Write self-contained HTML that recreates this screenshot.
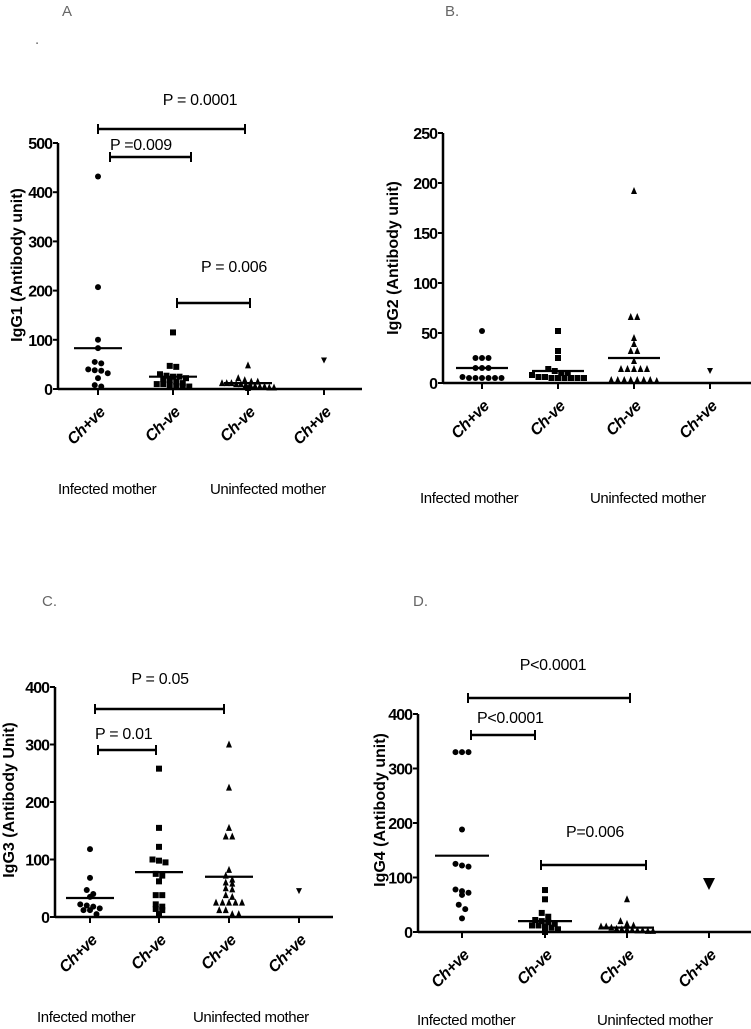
<!DOCTYPE html>
<html><head><meta charset="utf-8">
<style>
html,body{margin:0;padding:0;background:#fff;}
svg{display:block;font-family:"Liberation Sans",sans-serif;}
.tk{font-weight:bold;font-size:16px;letter-spacing:-1px;}
.yt{font-weight:bold;font-size:16px;}
.cat{font-weight:bold;font-style:italic;font-size:16px;letter-spacing:-0.5px;}
.grp{font-size:15px;letter-spacing:-0.4px;}
.pv{font-size:16px;letter-spacing:-0.3px;}
.pl{font-size:15px;fill:#666;}
</style></head>
<body>
<svg id="fig" width="751" height="1029" viewBox="0 0 751 1029"></svg>
<script>
const categories = ["Ch+ve","Ch-ve","Ch-ve","Ch+ve"];
const groupLabels = ["Infected mother","Uninfected mother"];
// Panel A IgG1
const aG1 = [432,207,100,83,55,52,40,38,37,32,22,8,5];
const aG2 = [115,47,45,30,27,25,25,22,20,18,15,12,10,10,8,6,5,5];
const aG3 = [48,22,18,15,15,12,12,12,10,10,8,8,6,5,5,3,3,2];
const aG4 = [58];
const aMedians = [83,25,12,58];
const aTicks = [0,100,200,300,400,500];
// Panel B IgG2
const bG1 = [52,25,25,25,15,15,15,6,5,5,5,5,5,5];
const bG2 = [52,32,25,14,12,10,10,8,6,5,5,5,5,5,5,6];
const bG3 = [192,66,66,45,39,32,32,22,14,14,14,14,14,3,3,3,3,3,3,3,2];
const bG4 = [12];
const bMedians = [15,12,25,12];
const bTicks = [0,50,100,150,200,250];
// Panel C IgG3
const cG1 = [118,68,47,40,35,22,20,18,15,12,12,5];
const cG2 = [258,155,122,100,98,95,75,72,62,38,38,22,18,14,12,5];
const cG3 = [300,225,155,140,140,82,72,65,60,58,50,48,38,35,25,25,25,25,25,12,12,5,5];
const cG4 = [45];
const cMedians = [33,78,70,45];
const cTicks = [0,100,200,300,400];
// Panel D IgG4
const dG1 = [330,330,330,188,125,122,120,78,75,72,68,50,42,25];
const dG2 = [77,60,35,28,22,20,18,15,12,12,10,8,5,0];
const dG3 = [60,20,15,12,10,10,8,6,5,5,4,3,3,2,2];
const dG4 = [88];
const dMedians = [140,20,8,88];
const dTicks = [0,100,200,300,400];

const NS="http://www.w3.org/2000/svg";
const svg=document.getElementById('fig');
function mk(tag,attrs,parent){const e=document.createElementNS(NS,tag);for(const k in attrs)e.setAttribute(k,attrs[k]);(parent||svg).appendChild(e);return e;}
function txt(s,attrs,parent){const e=mk('text',attrs,parent);e.textContent=s;return e;}

function panel(cfg){
  const g=mk('g',{});
  
  
  const ys=v=>cfg.y0-(v/cfg.max)*(cfg.y0-cfg.yTop);
  const ya=mk('line',{x1:cfg.ax,y1:cfg.yTop,x2:cfg.ax,y2:cfg.y0+1,stroke:'#000','stroke-width':2.5},g);
  
  
  const xa=mk('line',{x1:cfg.ax,y1:cfg.y0,x2:cfg.xEnd,y2:cfg.y0,stroke:'#000','stroke-width':2.5},g);
  
  
  cfg.ticks.forEach(t=>{
    const y=ys(t);
    mk('line',{x1:cfg.ax-5,y1:y,x2:cfg.ax,y2:y,stroke:'#000','stroke-width':2},g);
    const tl=txt(String(t),{x:cfg.ax-6,y:y+6,'text-anchor':'end',class:'tk'},g);
    
    
  });
  const yt=txt(cfg.ytitle,{x:0,y:0,class:'yt','text-anchor':'middle',transform:`translate(${cfg.ytx},${cfg.yty}) rotate(-90)`},g);
  
  
  cfg.gx.forEach((x,i)=>{
    mk('line',{x1:x,y1:cfg.y0,x2:x,y2:cfg.y0+6,stroke:'#000','stroke-width':2},g);
    const c=txt(categories[i],{x:0,y:0,class:'cat','text-anchor':'end',transform:`translate(${x+8},${cfg.y0+24}) rotate(-45)`},g);
    if(cfg.plainCat)c.setAttribute('font-style','normal');
    
    
  });
  cfg.grpX.forEach((x,i)=>{
    const t=txt(groupLabels[i],{x:x,y:cfg.grpY,class:'grp','font-size':cfg.grpSize},g);
    
    
  });
  cfg.series.forEach((vals,gi)=>{
    const sorted=vals.slice().sort((a,b)=>b-a);
    const rows=[];
    sorted.forEach(v=>{
      const y=ys(v);
      const last=rows[rows.length-1];
      if(last && Math.abs(last.y0-y)<4.5) last.items.push(y);
      else rows.push({y0:y,items:[y]});
    });
    rows.forEach(row=>{
      const n=row.items.length;
      const sp=n>1?Math.min(6.5,52/(n-1)):0;
      row.items.forEach((y,k)=>{
        const x=cfg.gx[gi]+(k-(n-1)/2)*sp;
        const r=cfg.ms;
        let m;
        if(gi===0) m=mk('circle',{cx:x,cy:y,r:r},g);
        else if(gi===1) m=mk('rect',{x:x-r,y:y-r,width:2*r,height:2*r},g);
        else if(gi===2) m=mk('polygon',{points:`${x},${y-r-1} ${x-r},${y+r} ${x+r},${y+r}`},g);
        else { const rr=cfg.bigTri?6:r; m=mk('polygon',{points:`${x-rr},${y-rr} ${x+rr},${y-rr} ${x},${y+rr}`},g); }
        m.setAttribute('fill','#000');
        
        
      });
    });
  });
  cfg.medians.forEach((v,i)=>{
    if(i===3)return;
    const y=ys(v);
    const l=mk('line',{x1:cfg.gx[i]-cfg.mw,y1:y,x2:cfg.gx[i]+cfg.mw,y2:y,stroke:'#000','stroke-width':2.2},g);
    
    
  });
  cfg.pbars.forEach(p=>{
    const b=mk('g',{},g);
    
    
    mk('line',{x1:p[0],y1:p[2],x2:p[1],y2:p[2],stroke:'#000','stroke-width':2.5},b);
    mk('line',{x1:p[0],y1:p[2]-5,x2:p[0],y2:p[2]+5,stroke:'#000','stroke-width':2},b);
    mk('line',{x1:p[1],y1:p[2]-5,x2:p[1],y2:p[2]+5,stroke:'#000','stroke-width':2},b);
    const t=txt(p[3],{x:p[4],y:p[5],class:'pv','text-anchor':p[6]},b);
    
    
  });
  const pl=txt(cfg.label,{x:cfg.lx,y:cfg.ly,class:'pl'},g);
  
  
}

panel({name:'panel-a-igg1',ax:58,y0:389,yTop:143,max:500,xEnd:362,ticks:aTicks,ytitle:'IgG1 (Antibody unit)',ytx:22,yty:265,
  gx:[98,173,248,324],series:[aG1,aG2,aG3,aG4],medians:aMedians,ms:3,mw:24,grpX:[58,210],grpY:494,grpSize:14,
  pbars:[[98,245,129,'P = 0.0001',200,105,'middle'],[110,191,157,'P =0.009',110,150,'start'],[177,250,303,'P = 0.006',234,272,'middle']],
  label:'A',lx:62,ly:16});
txt('.',{x:35,y:44,class:'pl'});
panel({name:'panel-b-igg2',ax:443,y0:383,yTop:133,max:250,xEnd:751,ticks:bTicks,ytitle:'IgG2 (Antibody unit)',ytx:398,yty:258,
  gx:[482,558,634,710],series:[bG1,bG2,bG3,bG4],medians:bMedians,ms:3,mw:26,grpX:[420,590],grpY:503,grpSize:20,
  pbars:[],label:'B.',lx:445,ly:16});
panel({name:'panel-c-igg3',ax:55,y0:917,yTop:687,max:400,xEnd:333,ticks:cTicks,ytitle:'IgG3 (Antibody Unit)',ytx:14,yty:800,
  gx:[90,159,229,299],series:[cG1,cG2,cG3,cG4],medians:cMedians,ms:3,mw:24,grpX:[37,193],grpY:1022,grpSize:15,
  pbars:[[95,224,709,'P = 0.05',160,684,'middle'],[98,156,750,'P = 0.01',95,739,'start']],
  label:'C.',lx:42,ly:606});
panel({name:'panel-d-igg4',ax:418,y0:932,yTop:714,max:400,xEnd:751,ticks:dTicks,ytitle:'IgG4 (Antibody unit)',ytx:385,yty:810,
  gx:[462,545,627,709],series:[dG1,dG2,dG3,dG4],medians:dMedians,ms:3,mw:27,grpX:[417,597],grpY:1025,grpSize:15,plainCat:true,bigTri:true,
  pbars:[[468,630,698,'P<0.0001',553,670,'middle'],[471,535,735,'P<0.0001',477,723,'start'],[541,646,865,'P=0.006',595,837,'middle']],
  label:'D.',lx:413,ly:606});
</script>
</body></html>
